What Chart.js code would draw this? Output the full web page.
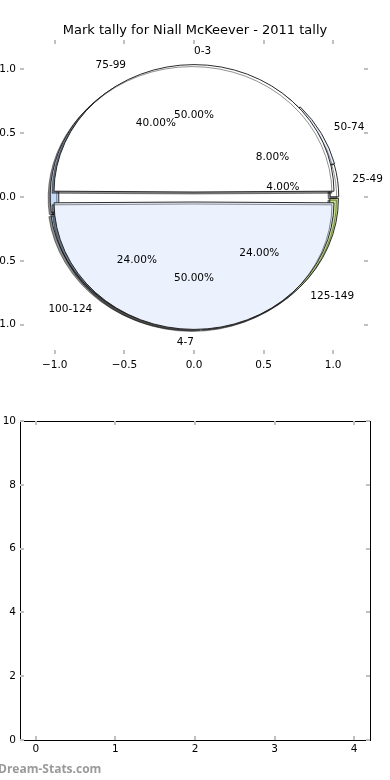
<!DOCTYPE html>
<html>
<head>
<meta charset="utf-8">
<script src="https://cdn.jsdelivr.net/npm/chart.js@4.4.1/dist/chart.umd.min.js"></script>
<style>
  html, body { margin: 0; padding: 0; background: #fff; width: 390px; height: 780px; overflow: hidden; position: relative; }
  canvas { position: absolute; }
  #pie { left: -20px; top: 0; }
  #empty { left: -20px; top: 400px; }
</style>
</head>
<body>
<canvas id="pie" width="430" height="375"></canvas>
<canvas id="empty" width="430" height="380"></canvas>
<script>
const title = 'Mark tally for Niall McKeever - 2011 tally';
// slices listed clockwise from 3 o'clock (chart.js draws clockwise)
const innerCategories = ['4-7', '0-3'];
const innerValues = [50, 50];
const outerCategories = ['125-149', '100-124', '75-99', '50-74', '25-49'];
const outerValues = [24, 24, 40, 8, 4];
const pieTicks = [-1, -0.5, 0, 0.5, 1];
const emptyXTicks = [0, 1, 2, 3, 4];
const emptyYTicks = [0, 2, 4, 6, 8, 10];
const emptyPoints = [];

const font = {family: 'DejaVu Sans', size: 10.5};
const SY = 0.91; // the pie axes are not square, so the pie is a bit flat
const innerOffset = 22;

const fmt = v => (v < 0 ? '\u2212' : '') + Math.abs(v).toFixed(1);

// matplotlib style: short grey ticks pointing inwards on all four sides
const tickMarks = {
  id: 'tickMarks',
  afterDraw(chart) {
    const {ctx, chartArea: a, scales: {x, y}} = chart;
    ctx.save();
    ctx.strokeStyle = '#c0c0c0';
    ctx.lineWidth = 2;
    ctx.beginPath();
    x.ticks.forEach(t => {
      const p = Math.round(x.getPixelForValue(t.value));
      ctx.moveTo(p, a.top); ctx.lineTo(p, a.top + 4);
      ctx.moveTo(p, a.bottom); ctx.lineTo(p, a.bottom - 4);
    });
    y.ticks.forEach(t => {
      const p = Math.round(y.getPixelForValue(t.value));
      ctx.moveTo(a.left, p); ctx.lineTo(a.left + 4, p);
      ctx.moveTo(a.right, p); ctx.lineTo(a.right - 4, p);
    });
    ctx.stroke();
    ctx.restore();
  }
};

const squash = {
  id: 'squash',
  beforeDatasetsDraw(chart) {
    const {ctx, chartArea: a} = chart;
    const cx = (a.left + a.right) / 2, cy = (a.top + a.bottom) / 2;
    ctx.save();
    ctx.translate(cx, cy);
    ctx.scale(1, SY);
    ctx.translate(-cx, -cy);
  },
  afterDatasetsDraw(chart) { chart.ctx.restore(); },
  beforeDatasetDraw(chart) {
    const c = chart.ctx;
    c.save();
    c.shadowColor = 'rgba(0,0,0,0.45)';
    c.shadowOffsetX = -2;
    c.shadowOffsetY = 2;
  },
  afterDatasetDraw(chart) { chart.ctx.restore(); }
};

const sliceLabels = {
  id: 'sliceLabels',
  afterDraw(chart) {
    const {ctx, chartArea: a} = chart;
    const cx = (a.left + a.right) / 2, cy = (a.top + a.bottom) / 2;
    const R = chart.getDatasetMeta(1).data[0].outerRadius + innerOffset / 4;
    ctx.save();
    ctx.font = '10.5px "DejaVu Sans"';
    ctx.fillStyle = '#000';
    ctx.textBaseline = 'middle';
    [[outerCategories, outerValues, 0], [innerCategories, innerValues, 1]].forEach(([cats, vals, di]) => {
      const total = vals.reduce((s, v) => s + v, 0);
      chart.getDatasetMeta(di).data.forEach((arc, i) => {
        const mid = (arc.startAngle + arc.endAngle) / 2;
        const th = (2 * Math.PI - mid % (2 * Math.PI)) % (2 * Math.PI);
        const put = (txt, r, align) => {
          ctx.textAlign = align;
          ctx.fillText(txt, cx + r * Math.cos(th), cy - r * Math.sin(th) * SY);
        };
        put(cats[i], 1.14 * R, Math.cos(th) > 0 ? 'left' : 'right');
        put((vals[i] / total * 100).toFixed(2) + '%', 0.64 * R, 'center');
      });
    });
    ctx.restore();
  }
};

const watermark = {
  id: 'watermark',
  afterDraw(chart) {
    const ctx = chart.ctx;
    ctx.save();
    ctx.font = 'bold 12px "Open Sans"';
    ctx.fillStyle = '#9a9a9a';
    ctx.textAlign = 'left';
    ctx.textBaseline = 'middle';
    ctx.fillText('Dream-Stats.com', 18, 370);
    ctx.restore();
  }
};

const plainAxis = {grid: {display: false, drawTicks: false}, border: {display: false}};

new Chart(document.getElementById('pie'), {
  type: 'pie',
  data: {
    labels: outerCategories,
    datasets: [
      {
        data: outerValues,
        backgroundColor: ['#c9e58c', '#bed6f5', '#c6dbfa', '#e6eefb', '#ffffff'],
        borderColor: '#222',
        borderWidth: 1,
        offset: [8, 8, 4, 6, 4],
        weight: 8.5,
        order: 1
      },
      {
        data: innerValues,
        backgroundColor: ['#ebf1fd', '#ffffff'],
        borderColor: '#222',
        borderWidth: 1,
        offset: [innerOffset, innerOffset],
        weight: 134.5,
        order: 0
      }
    ]
  },
  options: {
    responsive: false,
    animation: false,
    events: [],
    rotation: 90,
    radius: 143,
    plugins: {
      legend: {display: false},
      tooltip: {enabled: false},
      title: {
        display: true,
        text: title,
        color: '#000',
        font: {family: 'DejaVu Sans', size: 13, weight: 'normal'},
        padding: {top: 22.4, bottom: 2}
      }
    },
    scales: {
      x: {
        ...plainAxis, type: 'linear', position: 'bottom', min: -1.25, max: 1.25,
        afterBuildTicks: s => { s.ticks = pieTicks.map(v => ({value: v})); },
        afterFit: s => { s.height = 21; },
        ticks: {callback: fmt, font, color: '#000', padding: 5, maxRotation: 0, autoSkip: false}
      },
      y: {
        ...plainAxis, type: 'linear', position: 'left', min: -1.23, max: 1.23,
        afterBuildTicks: s => { s.ticks = pieTicks.map(v => ({value: v})); },
        afterFit: s => { s.width = 40; },
        ticks: {callback: fmt, font, color: '#000', padding: 4, autoSkip: false}
      },
      y2: {
        ...plainAxis, type: 'linear', position: 'right', min: -1, max: 1,
        ticks: {display: false},
        afterFit: s => { s.width = 42; }
      }
    }
  },
  plugins: [squash, tickMarks, sliceLabels]
});

const frame = {display: true, color: '#000', width: 1};

new Chart(document.getElementById('empty'), {
  type: 'scatter',
  data: {datasets: [{data: emptyPoints}]},
  options: {
    responsive: false,
    animation: false,
    events: [],
    plugins: {legend: {display: false}, tooltip: {enabled: false}},
    scales: {
      x: {
        type: 'linear', position: 'bottom', min: -0.2, max: 4.2,
        grid: {display: false, drawTicks: false}, border: frame,
        afterBuildTicks: s => { s.ticks = emptyXTicks.map(v => ({value: v})); },
        afterFit: s => { s.height = 40; },
        ticks: {callback: v => String(v), font, color: '#000', padding: 3, maxRotation: 0, autoSkip: false}
      },
      y: {
        type: 'linear', position: 'left', min: 0, max: 10,
        grid: {display: false, drawTicks: false}, border: frame,
        afterBuildTicks: s => { s.ticks = emptyYTicks.map(v => ({value: v})); },
        afterFit: s => { s.width = 40; },
        ticks: {callback: v => String(v), font, color: '#000', padding: 4, autoSkip: false}
      },
      x2: {
        type: 'linear', position: 'top', min: -0.2, max: 4.2,
        grid: {display: false, drawTicks: false}, border: frame,
        ticks: {display: false},
        afterFit: s => { s.height = 21; }
      },
      y2: {
        type: 'linear', position: 'right', min: 0, max: 10,
        grid: {display: false, drawTicks: false}, border: frame,
        ticks: {display: false},
        afterFit: s => { s.width = 40; }
      }
    }
  },
  plugins: [tickMarks, watermark]
});
</script>
</body>
</html>
